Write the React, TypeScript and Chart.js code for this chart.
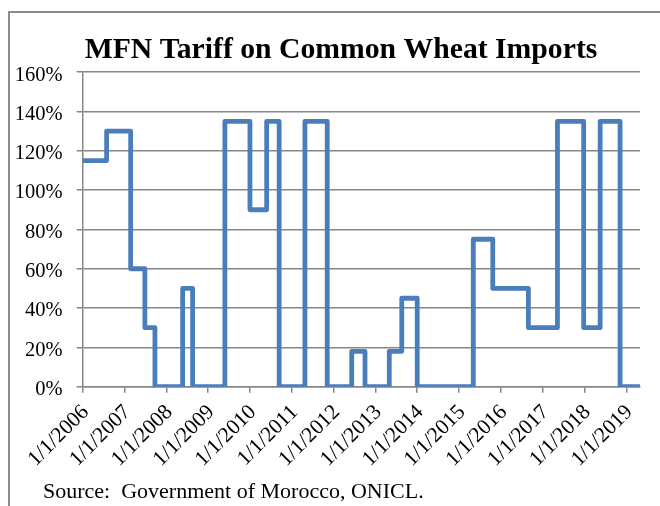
import React, { useEffect, useRef } from 'react';
import { Chart, registerables } from 'chart.js';

Chart.register(...registerables);

// Dates at which the MFN tariff changed, and the new tariff (%) from that date
const changeDates = [
  '2006-01-01', '2006-07-29', '2007-02-24', '2007-06-28', '2007-09-24',
  '2008-05-23', '2008-08-18', '2009-05-27', '2010-01-01', '2010-05-27',
  '2010-09-13', '2011-04-26', '2011-11-07', '2012-06-08', '2012-10-02',
  '2013-05-02', '2013-08-19', '2014-01-01', '2015-05-06', '2015-10-23',
  '2016-08-29', '2017-05-10', '2017-12-25', '2018-05-18', '2018-11-08',
  '2019-05-01',
];
const tariffValues = [
  115, 130, 60, 30, 0,
  50, 0, 135, 90, 135,
  0, 135, 0, 18, 0,
  18, 45, 0, 75, 50,
  30, 135, 30, 135, 0,
  0,
];
const tickYears = [2006, 2007, 2008, 2009, 2010, 2011, 2012, 2013, 2014, 2015, 2016, 2017, 2018, 2019];
const yTickValues = [0, 20, 40, 60, 80, 100, 120, 140, 160];

const TITLE = 'MFN Tariff on Common Wheat Imports';
const SOURCE = 'Source:  Government of Morocco, ONICL.';

const ORIGIN = Date.UTC(2006, 0, 1);
const dayOf = (d: string) => {
  const [y, m, dd] = d.split('-').map(Number);
  return (Date.UTC(y, m - 1, dd) - ORIGIN) / 86400000;
};

const W = 660;
const H = 506;
const CANVAS_W = 682; // wider than the window so the title centres like the reference
const PLOT_LEFT = 82.7;
const PLOT_RIGHT = 640;
const PLOT_BOTTOM = 386.7;

export default function App() {
  const ref = useRef<HTMLCanvasElement | null>(null);

  useEffect(() => {
    if (!ref.current) return;
    const points = changeDates.map((d, i) => ({ x: dayOf(d), y: tariffValues[i] }));
    const gridColor = '#868686';
    const chart = new Chart(ref.current, {
      type: 'line',
      data: {
        datasets: [
          {
            data: points,
            stepped: 'before',
            borderColor: '#4a7ebb',
            borderWidth: 4.8,
            borderJoinStyle: 'round',
            borderCapStyle: 'butt',
            pointRadius: 0,
            fill: false,
            yAxisID: 'y',
          },
        ],
      },
      options: {
        responsive: false,
        animation: false,
        devicePixelRatio: 1,
        layout: { padding: 0 },
        plugins: {
          legend: { display: false },
          tooltip: { enabled: false },
          title: {
            display: true,
            text: TITLE,
            color: '#000',
            font: { family: 'Liberation Serif', size: 29.7, weight: 'bold' },
            padding: { top: 32.2, bottom: 4.3 },
          },
        },
        scales: {
          x: {
            type: 'linear',
            min: 0,
            max: dayOf(changeDates[changeDates.length - 1]),
            afterBuildTicks: (s: any) => {
              s.ticks = tickYears.map((y) => ({ value: dayOf(`${y}-01-01`) }));
            },
            afterFit: (s: any) => {
              s.height = H - PLOT_BOTTOM;
            },
            grid: {
              drawOnChartArea: false,
              drawTicks: true,
              tickLength: 6,
              color: gridColor,
              lineWidth: 1.5,
            },
            border: { display: true, color: gridColor, width: 1.5 },
            ticks: {
              autoSkip: false,
              minRotation: 45,
              maxRotation: 45,
              padding: 7,
              labelOffset: 3,
              color: '#000',
              font: { family: 'Liberation Serif', size: 21.5 },
              callback: (_v: any, i: number) => `1/1/${tickYears[i]}`,
            },
          },
          y: {
            position: 'left',
            min: 0,
            max: 160,
            afterBuildTicks: (s: any) => {
              s.ticks = yTickValues.map((v) => ({ value: v }));
            },
            afterFit: (s: any) => {
              s.width = PLOT_LEFT;
            },
            grid: {
              drawTicks: true,
              tickLength: 6,
              color: gridColor,
              lineWidth: 1.5,
            },
            border: { display: true, color: gridColor, width: 1.5 },
            ticks: {
              padding: 14,
              labelOffset: 3,
              color: '#000',
              font: { family: 'Liberation Serif', size: 20.5 },
              callback: (v: any) => `${v}%`,
            },
          },
          yRight: {
            position: 'right',
            min: 0,
            max: 160,
            afterFit: (s: any) => {
              s.width = CANVAS_W - PLOT_RIGHT;
            },
            grid: { display: false, drawTicks: false },
            border: { display: false },
            ticks: { display: false },
          },
        },
      },
    });
    return () => chart.destroy();
  }, []);

  return (
    <div style={{ position: 'fixed', left: 0, top: 0, width: W, height: H, overflow: 'hidden', background: '#fff' }}>
      <div
        style={{
          position: 'absolute',
          left: 8,
          top: 11,
          width: 700,
          height: 600,
          borderTop: '2px solid #8c8c8c',
          borderLeft: '2px solid #8c8c8c',
        }}
      />
      <canvas
        ref={ref}
        width={CANVAS_W}
        height={H}
        style={{ position: 'absolute', left: 0, top: 0, width: CANVAS_W, height: H }}
      />
      <div
        style={{
          position: 'absolute',
          left: 43,
          top: 479.6,
          fontFamily: 'Liberation Serif',
          fontSize: 22,
          lineHeight: '22px',
          whiteSpace: 'pre',
          color: '#000',
        }}
      >
        {SOURCE}
      </div>
    </div>
  );
}
